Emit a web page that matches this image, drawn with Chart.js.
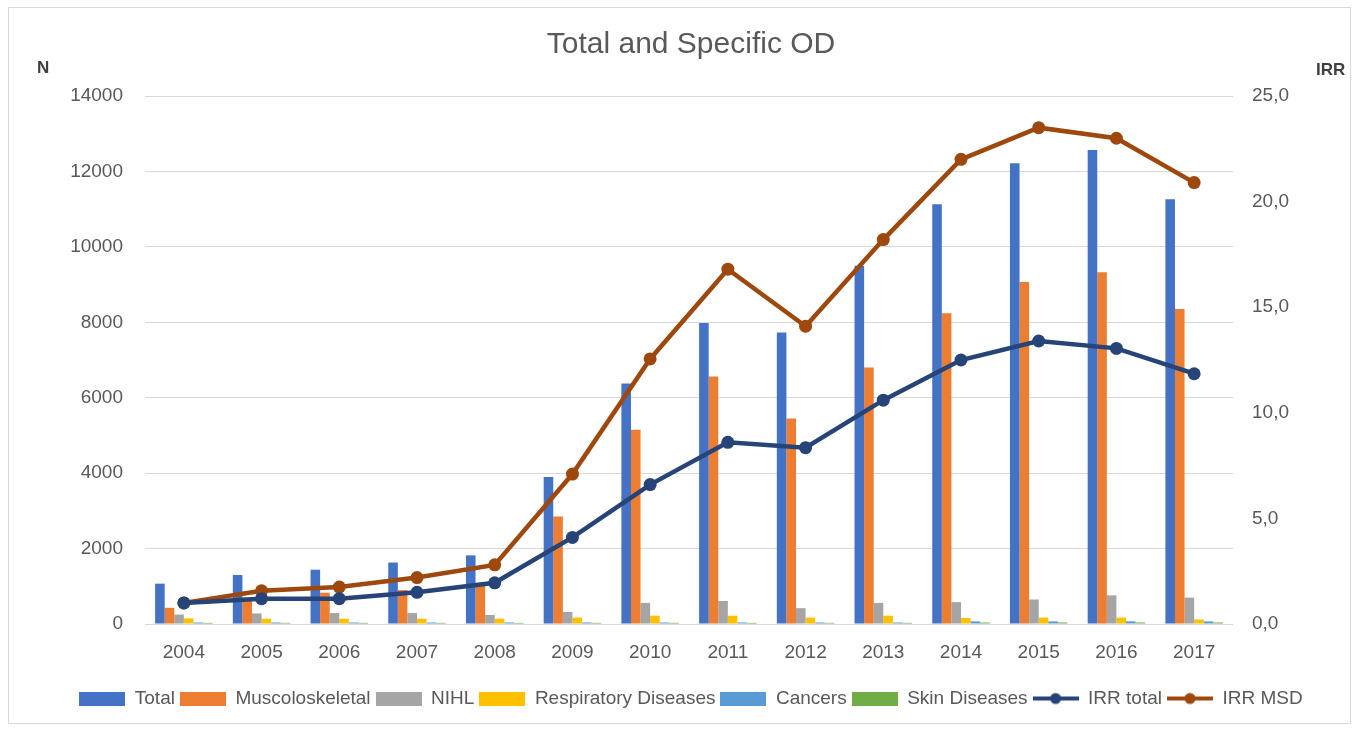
<!DOCTYPE html>
<html>
<head>
<meta charset="utf-8">
<script src="https://cdn.jsdelivr.net/npm/chart.js@4.4.0/dist/chart.umd.min.js"></script>
<style>
  body { margin: 0; background: #fff; }
  #wrap { position: relative; width: 1358px; height: 731px; }
  #frame { position: absolute; left: 8px; top: 7px; width: 1341px; height: 715px; border: 1px solid #d9d9d9; pointer-events: none; }
  .axlab { position: absolute; font: bold 17px "Liberation Sans", Arial, sans-serif; color: #404040; }
</style>
</head>
<body>
<div id="wrap">
  <canvas id="odChart"></canvas>
  <div id="frame"></div>
  <span class="axlab" style="left:37px; top:58px;">N</span>
  <span class="axlab" style="left:1316px; top:60px;">IRR</span>
</div>
<script>
const years = ['2004', '2005', '2006', '2007', '2008', '2009', '2010', '2011', '2012', '2013', '2014', '2015', '2016', '2017'];
const total = [1070, 1300, 1440, 1630, 1820, 3900, 6380, 7980, 7730, 9500, 11130, 12220, 12570, 11260];
const musc = [430, 700, 830, 900, 1060, 2850, 5150, 6560, 5450, 6800, 8240, 9070, 9330, 8350];
const nihl = [250, 280, 290, 290, 240, 320, 560, 610, 420, 560, 580, 650, 760, 700];
const resp = [150, 140, 140, 140, 140, 170, 220, 220, 170, 220, 160, 170, 170, 120];
const cancers = [40, 40, 40, 40, 40, 40, 40, 40, 40, 40, 70, 70, 70, 70];
const skin = [30, 30, 30, 30, 30, 30, 30, 30, 30, 30, 40, 40, 40, 40];
const irrTotal = [1.0, 1.2, 1.2, 1.5, 1.95, 4.1, 6.6, 8.6, 8.35, 10.6, 12.5, 13.4, 13.05, 11.85];
const irrMsd = [1.0, 1.57, 1.75, 2.2, 2.8, 7.1, 12.55, 16.8, 14.1, 18.2, 22.0, 23.5, 23.0, 20.9];

const font = '"Liberation Sans", Arial, sans-serif';
const grey = '#595959';

// legend swatches
function swatch(color, isLine) {
  const c = document.createElement('canvas');
  c.width = 46; c.height = 14;
  const g = c.getContext('2d');
  if (isLine) {
    g.strokeStyle = color; g.lineWidth = 4;
    g.beginPath(); g.moveTo(0, 7); g.lineTo(46, 7); g.stroke();
    g.fillStyle = color;
    g.beginPath(); g.arc(23, 7, 5.5, 0, Math.PI * 2); g.fill();
  } else {
    g.fillStyle = color; g.fillRect(0, 0, 46, 14);
  }
  return c;
}

function bar(label, data, color) {
  return { type: 'bar', label: label, data: data, backgroundColor: color, yAxisID: 'y', order: 2,
    barPercentage: 1, categoryPercentage: 0.74 };
}
function line(label, data, color) {
  return { type: 'line', label: label, data: data, borderColor: color, backgroundColor: color, yAxisID: 'y1', order: 1,
    borderWidth: 4.5, pointRadius: 6.5, pointBackgroundColor: color, pointBorderWidth: 0, tension: 0 };
}

const ctx = document.getElementById('odChart').getContext('2d');
const odChart = new Chart(ctx, {
  data: {
    labels: years,
    datasets: [
      bar('Total', total, '#4472C4'),
      bar('Muscoloskeletal', musc, '#ED7D31'),
      bar('NIHL', nihl, '#A5A5A5'),
      bar('Respiratory Diseases', resp, '#FFC000'),
      bar('Cancers', cancers, '#5B9BD5'),
      bar('Skin Diseases', skin, '#70AD47'),
      line('IRR total', irrTotal, '#264478'),
      line('IRR MSD', irrMsd, '#9E480E'),
    ],
  },
  options: {
    responsive: true,
    maintainAspectRatio: false,
    animation: false,
    layout: { padding: { bottom: 13, left: 24 } },
    plugins: {
      title: {
        display: true,
        text: 'Total and Specific OD',
        color: grey,
        font: { family: font, size: 30, weight: 'normal' },
        padding: { top: 27, bottom: 33 },
      },
      legend: {
        position: 'bottom',
        labels: {
          usePointStyle: true,
          pointStyleWidth: 46,
          boxHeight: 14,
          padding: 5,
          color: grey,
          font: { family: font, size: 19 },
          generateLabels: (chart) => chart.data.datasets.map((ds, i) => ({
            text: ds.label,
            pointStyle: swatch(ds.backgroundColor, ds.type === 'line'),
            fontColor: grey,
            lineWidth: 0,
            datasetIndex: i,
            hidden: false,
          })),
        },
      },
      tooltip: { enabled: false },
    },
    scales: {
      x: {
        grid: { display: false },
        border: { display: false },
        ticks: { color: grey, font: { family: font, size: 19 }, padding: 9 },
        afterFit: (s) => { s.height = 60; },
      },
      y: {
        position: 'left',
        min: 0, max: 14000,
        ticks: { stepSize: 2000, color: grey, font: { family: font, size: 19 }, padding: 22,
          callback: (v) => String(v) },
        grid: { color: '#d9d9d9', drawTicks: false },
        border: { display: false },
        afterFit: (s) => { s.width = 121; },
      },
      y1: {
        position: 'right',
        min: 0, max: 25,
        ticks: { stepSize: 5, color: grey, font: { family: font, size: 19 }, padding: 19,
          callback: (v) => v.toFixed(1).replace('.', ',') },
        grid: { display: false, drawTicks: false },
        border: { display: false },
        afterFit: (s) => { s.width = 125; },
      },
    },
  },
});
</script>
</body>
</html>
